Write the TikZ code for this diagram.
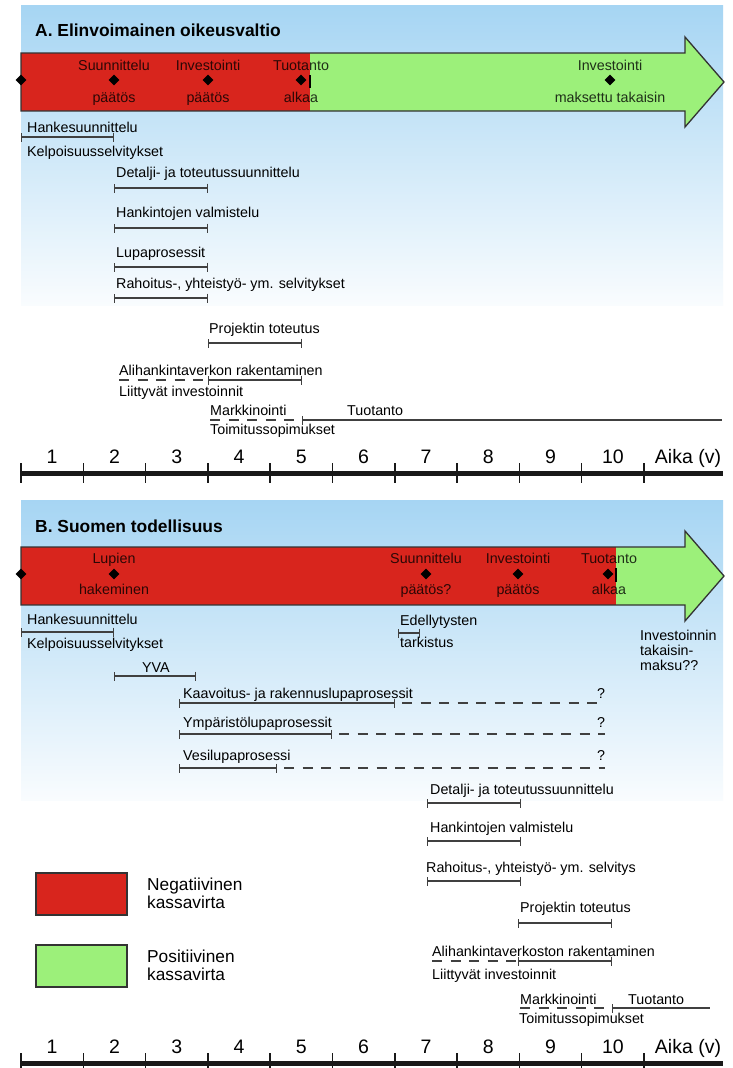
\documentclass[tikz,border=0pt]{standalone}
\usepackage{fontspec}
\setmainfont{Liberation Sans}
\usetikzlibrary{shapes.geometric,arrows.meta}
\definecolor{skyblue}{HTML}{A6D5F3}
\definecolor{skyfade}{HTML}{F9FCFE}
\definecolor{cashred}{HTML}{D8251D}
\definecolor{cashgreen}{HTML}{9CF07A}
\definecolor{barline}{HTML}{404040}
\newcommand{\lblsize}{\fontsize{14.3pt}{15pt}\selectfont}
\newcommand{\axsize}{\fontsize{19.5pt}{22pt}\selectfont}
\newcommand{\ttlsize}{\fontsize{17.4pt}{20pt}\selectfont\bfseries}
\newcommand{\legsize}{\fontsize{17.3pt}{18.3pt}\selectfont}

\begin{document}
\begin{tikzpicture}[x=1pt, y=-1pt,
    lbl/.style={font=\lblsize, inner sep=0pt, anchor=base west},
    mid/.style={font=\lblsize, inner sep=0pt, anchor=base, text opacity=.8},
    qmark/.style={font=\lblsize, inner sep=0pt, anchor=base},
    num/.style={font=\axsize, inner sep=0pt, anchor=base},
    dmd/.style={diamond, fill=black, inner sep=0pt, minimum size=11pt},
    span/.style={{Bar[width=9pt]}-{Bar[width=9pt]}, line width=1.4pt, draw=barline},
    open/.style={{Bar[width=9pt]}-, line width=1.4pt, draw=barline},
    gap/.style={line width=1.4pt, draw=barline, dash pattern=on 10pt off 8.5pt},
    axis/.style={line width=5pt, draw=black!90},
    tick/.style={line width=1.5pt, draw=black!90},
    rim/.style={draw=black!80, line width=1.3pt, line join=miter},
    legbox/.style={draw=black!80, line width=1.3pt}]

    \useasboundingbox (0,0) rectangle (733,1068);
    \fill[white] (0,0) rectangle (733,1068);

    \shade[top color=skyblue, bottom color=skyfade] (21,5) rectangle (723,305);
    \shade[top color=skyblue, bottom color=skyfade] (21,500) rectangle (723,800);

    \node[lbl, font=\ttlsize] (ttlA) at (35,36) {A. Elinvoimainen oikeusvaltio};

    \fill[cashred] (21,53) rectangle (310,111);
    \fill[cashgreen] (310,53) -- (685,53) -- (685,37) -- (724,82) -- (685,127) -- (685,111) -- (310,111) -- cycle;
    \draw[rim] (21,53) -- (685,53) -- (685,37) -- (724,82) -- (685,127) -- (685,111) -- (21,111) -- cycle;
    \draw[line width=1.3pt] (310,75) -- (310,88);

    \node[dmd] (startA) at (21,80) {};
    \node[dmd] (planA) at (114,80) {};
    \node[dmd] (invA) at (208,80) {};
    \node[dmd] (prodA) at (301,80) {};
    \node[dmd] (backA) at (610,80) {};
    \node[mid] (planAt) at (114,70) {Suunnittelu};
    \node[mid] (planAb) at (114,102) {päätös};
    \node[mid] (invAt) at (208,70) {Investointi};
    \node[mid] (invAb) at (208,102) {päätös};
    \node[mid] (prodAt) at (301,70) {Tuotanto};
    \node[mid] (prodAb) at (301,102) {alkaa};
    \node[mid] (backAt) at (610,70) {Investointi};
    \node[mid] (backAb) at (610,102) {maksettu takaisin};

    \node[lbl] (hsA) at (27,132) {Hankesuunnittelu};
    \node[lbl] (kpA) at (27,156) {Kelpoisuusselvitykset};
    \coordinate (hsA0) at (21,137); \coordinate (hsA1) at (114,137);
    \draw[span] (hsA0) -- (hsA1);

    \node[lbl] (dtA) at (116,177) {Detalji- ja toteutussuunnittelu};
    \coordinate (dtA0) at (114,188); \coordinate (dtA1) at (208,188);
    \draw[span] (dtA0) -- (dtA1);

    \node[lbl] (hvA) at (116,217) {Hankintojen valmistelu};
    \coordinate (hvA0) at (114,228); \coordinate (hvA1) at (208,228);
    \draw[span] (hvA0) -- (hvA1);

    \node[lbl] (lpA) at (116,257) {Lupaprosessit};
    \coordinate (lpA0) at (114,267); \coordinate (lpA1) at (208,267);
    \draw[span] (lpA0) -- (lpA1);

    \node[lbl] (rhA) at (116,288.5) {Rahoitus-, yhteistyö- ym. selvitykset};
    \coordinate (rhA0) at (114,298); \coordinate (rhA1) at (208,298);
    \draw[span] (rhA0) -- (rhA1);

    \node[lbl] (ptA) at (209,333) {Projektin toteutus};
    \coordinate (ptA0) at (208,343); \coordinate (ptA1) at (302,343);
    \draw[span] (ptA0) -- (ptA1);

    \node[lbl] (ahA) at (119,375) {Alihankintaverkon rakentaminen};
    \node[lbl] (liA) at (119,396) {Liittyvät investoinnit};
    \coordinate (ahA0) at (119,380); \coordinate (ahA1) at (208,380); \coordinate (ahA2) at (302,380);
    \draw[gap] (ahA0) -- (ahA1);
    \draw[span] (ahA1) -- (ahA2);

    \node[lbl] (mkA) at (210,415.7) {Markkinointi};
    \node[lbl] (tuA) at (347,415.7) {Tuotanto};
    \node[lbl] (tsA) at (210,434.3) {Toimitussopimukset};
    \coordinate (mkA0) at (210,420); \coordinate (mkA1) at (298,420);
    \coordinate (tuA0) at (302,420); \coordinate (tuA1) at (722,420);
    \draw[gap] (mkA0) -- (mkA1);
    \draw[open] (tuA0) -- (tuA1);

    \coordinate (axA0) at (21,473.5); \coordinate (axA1) at (723,473.5);
    \draw[axis] (axA0) -- (axA1);
    \foreach \k in {0,...,10}
        \draw[tick] (21+62.3*\k,463) -- (21+62.3*\k,483);
    \foreach \k in {1,...,10}
        \node[num] (yrA\k) at (21+62.3*\k-31.15,463) {\k};
    \node[num] (aikaA) at (688,463) {Aika (v)};

    \node[lbl, font=\ttlsize] (ttlB) at (35,532) {B. Suomen todellisuus};

    \fill[cashred] (21,547) rectangle (616,605);
    \fill[cashgreen] (616,547) -- (685,547) -- (685,531) -- (724,576) -- (685,621) -- (685,605) -- (616,605) -- cycle;
    \draw[rim] (21,547) -- (685,547) -- (685,531) -- (724,576) -- (685,621) -- (685,605) -- (21,605) -- cycle;
    \draw[line width=1.3pt] (616,568) -- (616,582);

    \node[dmd] (startB) at (21,574) {};
    \node[dmd] (permB) at (114,574) {};
    \node[dmd] (planB) at (426,574) {};
    \node[dmd] (invB) at (518,574) {};
    \node[dmd] (prodB) at (608,574) {};
    \node[mid] (permBt) at (114,563) {Lupien};
    \node[mid] (permBb) at (114,594) {hakeminen};
    \node[mid] (planBt) at (426,563) {Suunnittelu};
    \node[mid] (planBb) at (426,594) {päätös?};
    \node[mid] (invBt) at (518,563) {Investointi};
    \node[mid] (invBb) at (518,594) {päätös};
    \node[mid] (prodBt) at (609,563) {Tuotanto};
    \node[mid] (prodBb) at (609,594) {alkaa};

    \node[lbl] (hsB) at (27,624) {Hankesuunnittelu};
    \node[lbl] (kpB) at (27,648) {Kelpoisuusselvitykset};
    \coordinate (hsB0) at (21,632); \coordinate (hsB1) at (114,632);
    \draw[span] (hsB0) -- (hsB1);

    \node[lbl] (edB) at (400,625) {Edellytysten};
    \node[lbl] (tkB) at (400,647) {tarkistus};
    \coordinate (edB0) at (398,633); \coordinate (edB1) at (420,633);
    \draw[span] (edB0) -- (edB1);

    \node[lbl, anchor=north west, align=left] (retB) at (640,630) {Investoinnin\\takaisin-\\maksu??};

    \node[lbl] (yvB) at (142,672) {YVA};
    \coordinate (yvB0) at (114,676); \coordinate (yvB1) at (196,676);
    \draw[span] (yvB0) -- (yvB1);

    \node[lbl] (kvB) at (183,698) {Kaavoitus- ja rakennuslupaprosessit};
    \node[qmark] (kvQ) at (601,698) {?};
    \coordinate (kvB0) at (179,703); \coordinate (kvB1) at (395,703); \coordinate (kvB2) at (605,703);
    \draw[span] (kvB0) -- (kvB1);
    \draw[gap] (kvB1) ++(7,0) -- (kvB2);

    \node[lbl] (ymB) at (183,727) {Ympäristölupaprosessit};
    \node[qmark] (ymQ) at (601,727) {?};
    \coordinate (ymB0) at (179,734); \coordinate (ymB1) at (332,734); \coordinate (ymB2) at (605,734);
    \draw[span] (ymB0) -- (ymB1);
    \draw[gap] (ymB1) ++(7,0) -- (ymB2);

    \node[lbl] (vlB) at (183,760) {Vesilupaprosessi};
    \node[qmark] (vlQ) at (601,760) {?};
    \coordinate (vlB0) at (179,768); \coordinate (vlB1) at (277,768); \coordinate (vlB2) at (605,768);
    \draw[span] (vlB0) -- (vlB1);
    \draw[gap] (vlB1) ++(7,0) -- (vlB2);

    \node[lbl] (dtB) at (430,794) {Detalji- ja toteutussuunnittelu};
    \coordinate (dtB0) at (427,803); \coordinate (dtB1) at (521,803);
    \draw[span] (dtB0) -- (dtB1);

    \node[lbl] (hvB) at (430,832) {Hankintojen valmistelu};
    \coordinate (hvB0) at (427,841); \coordinate (hvB1) at (521,841);
    \draw[span] (hvB0) -- (hvB1);

    \node[lbl] (rhB) at (426,872) {Rahoitus-, yhteistyö- ym. selvitys};
    \coordinate (rhB0) at (427,881); \coordinate (rhB1) at (521,881);
    \draw[span] (rhB0) -- (rhB1);

    \node[lbl] (ptB) at (520,912) {Projektin toteutus};
    \coordinate (ptB0) at (518,923); \coordinate (ptB1) at (612,923);
    \draw[span] (ptB0) -- (ptB1);

    \node[lbl] (ahB) at (432,956) {Alihankintaverkoston rakentaminen};
    \node[lbl] (liB) at (432,979) {Liittyvät investoinnit};
    \coordinate (ahB0) at (432,961); \coordinate (ahB1) at (518,961); \coordinate (ahB2) at (612,961);
    \draw[gap] (ahB0) -- (ahB1);
    \draw[span] (ahB1) -- (ahB2);

    \node[lbl] (mkB) at (520,1004) {Markkinointi};
    \node[lbl] (tuB) at (628,1004) {Tuotanto};
    \node[lbl] (tsB) at (519,1023) {Toimitussopimukset};
    \coordinate (mkB0) at (520,1008); \coordinate (mkB1) at (606,1008);
    \coordinate (tuB0) at (612,1008); \coordinate (tuB1) at (710,1008);
    \draw[gap] (mkB0) -- (mkB1);
    \draw[open] (tuB0) -- (tuB1);

    \coordinate (axB0) at (21,1063); \coordinate (axB1) at (723,1063);
    \draw[axis] (axB0) -- (axB1);
    \foreach \k in {0,...,10}
        \draw[tick] (21+62.3*\k,1053) -- (21+62.3*\k,1073);
    \foreach \k in {1,...,10}
        \node[num] (yrB\k) at (21+62.3*\k-31.15,1053) {\k};
    \node[num] (aikaB) at (688,1053) {Aika (v)};

    \node[legbox, fill=cashred, minimum width=91pt, minimum height=42pt, inner sep=0pt] (negbox) at (81.5,894) {};
    \node[legbox, fill=cashgreen, minimum width=91pt, minimum height=42pt, inner sep=0pt] (posbox) at (81.5,966) {};
    \node[lbl, font=\legsize, anchor=north west, align=left] (negtxt) at (147,877.5) {Negatiivinen\\kassavirta};
    \node[lbl, font=\legsize, anchor=north west, align=left] (postxt) at (147,949.5) {Positiivinen\\kassavirta};

\end{tikzpicture}
\end{document}
